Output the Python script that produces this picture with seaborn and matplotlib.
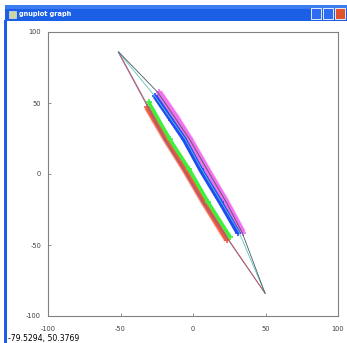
import matplotlib
matplotlib.use("Agg")
import matplotlib.pyplot as plt
import seaborn as sns
import pandas as pd
from matplotlib.patches import Rectangle

sns.set_theme(style="white")
plt.rcParams['font.family'] = ['DejaVu Sans']

# --- data -----------------------------------------------------------------
# point bands (centre lines)
red_x = [-31.7, -18.8, -5.8, 7.5, 23.4]
red_y = [47.0, 24.4, 3.2, -20.0, -46.3]
green_x = [-30.5, -16.0, -2.6, 10.5, 25.5]
green_y = [50.5, 24.4, 3.2, -20.0, -44.2]
blue_x = [-26.2, -15.0, -6.0, 5.3, 19.0, 31.0]
blue_y = [54.8, 38.0, 24.4, 3.2, -20.0, -41.3]
magenta_x = [-23.6, -11.8, -2.2, 9.7, 23.0, 34.2]
magenta_y = [57.6, 40.0, 24.4, 3.2, -20.0, -41.3]

# fitted curves, from common start to common end point
c_purple_x = [-51.7, -31.9, -19.5, -6.4, 7.1, 23.3, 49.7]
c_purple_y = [86.0, 48.5, 24.4, 3.2, -20.0, -45.0, -84.0]
c_red_x = [-51.3, -31.4, -19.0, -6.0, 7.6, 23.8, 49.7]
c_red_y = [86.0, 48.5, 24.4, 3.2, -20.0, -45.0, -84.0]
c_teal_x = [-51.5, -26.5, -5.3, 6.0, 19.6, 31.5, 49.7]
c_teal_y = [86.0, 55.0, 24.4, 3.2, -20.0, -40.5, -84.0]
c_gray_x = [-51.3, -24.3, -2.3, 9.7, 23.0, 33.8, 49.7]
c_gray_y = [86.0, 57.5, 24.4, 3.2, -20.0, -41.0, -84.0]

x_ticks = [-100, -50, 0, 50, 100]
y_ticks = [-100, -50, 0, 50, 100]
window_title = "gnuplot graph"
status_text = "-79.5294, 50.3769"

# --- figure -----------------------------------------------------------------
W, H = 347, 343
fig = plt.figure(figsize=(W / 100, H / 100), dpi=100)
fig.patch.set_facecolor("white")

# window chrome
fig.patches.append(Rectangle((5 / W, 1 - 21 / H), 1, 16 / H, transform=fig.transFigure,
                             facecolor="#1a5fe6", edgecolor="none", zorder=0))
fig.patches.append(Rectangle((5 / W, 1 - 9 / H), 1, 4 / H, transform=fig.transFigure,
                             facecolor="#3b7cf2", edgecolor="none", zorder=0))
fig.patches.append(Rectangle((4 / W, 0), 3 / W, 1 - 20 / H, transform=fig.transFigure,
                             facecolor="#1a5fe6", edgecolor="none", zorder=0))
fig.patches.append(Rectangle((9 / W, 1 - 18 / H), 7 / W, 7 / H, transform=fig.transFigure,
                             facecolor="#c8d8a0", edgecolor="#e0e0e0", lw=0.5, zorder=1))
fig.text(19 / W, 1 - 14 / H, window_title, color="white", fontsize=4.8,
         fontweight="bold", va="center", ha="left")
for bx, col in [(316, "#2d6cf0"), (328, "#2d6cf0"), (340, "#e2532b")]:
    fig.patches.append(Rectangle(((bx - 5) / W, 1 - 19 / H), 10 / W, 11 / H,
                                 transform=fig.transFigure, facecolor=col,
                                 edgecolor="white", lw=0.6, zorder=1))
fig.text(7.5 / W, 1 - 338 / H, status_text, color="black", fontsize=5.6,
         va="center", ha="left")

ax = fig.add_axes([48 / W, 1 - 316 / H, 290 / W, 284 / H])
ax.set_facecolor("white")


def band(xs, ys, color, lw, halo=None, halo_lw=None):
    df = pd.DataFrame({"x": xs, "y": ys})
    if halo is not None:
        sns.lineplot(data=df, x="x", y="y", color=halo, lw=halo_lw, sort=False,
                     ax=ax, solid_capstyle="butt", alpha=0.8)
    sns.lineplot(data=df, x="x", y="y", color=color, lw=lw, sort=False, ax=ax,
                 solid_capstyle="butt", marker="+", markersize=5,
                 markeredgewidth=1.2, markeredgecolor=color)


band(red_x, red_y, "#f25a3c", 3.4, halo="#f7a090", halo_lw=4.8)
band(green_x, green_y, "#3cf03c", 2.6)
band(magenta_x, magenta_y, "#f070f0", 4.2, halo="#f8a8f8", halo_lw=5.2)
band(blue_x, blue_y, "#1f4cf5", 3.6)

for xs, ys, col in [(c_purple_x, c_purple_y, "#6a5fc8"),
                    (c_red_x, c_red_y, "#c85a4a"),
                    (c_teal_x, c_teal_y, "#5cc4c0"),
                    (c_gray_x, c_gray_y, "#4a5a5a")]:
    sns.lineplot(x=xs, y=ys, color=col, lw=0.6, sort=False, ax=ax)

ax.set_xlim(-100, 100)
ax.set_ylim(-100, 100)
ax.set_xticks(x_ticks)
ax.set_yticks(y_ticks)
ax.set_xticklabels([str(t) for t in x_ticks])
ax.set_yticklabels([str(t) for t in y_ticks])
ax.set_xlabel("")
ax.set_ylabel("")
for s in ax.spines.values():
    s.set_color("#808080")
    s.set_linewidth(0.8)
ax.tick_params(axis="both", direction="in", length=2.5, width=0.6, color="#808080",
               labelsize=4.8, labelcolor="#404040", pad=5,
               top=False, right=False, bottom=True, left=True)
ax.tick_params(axis="x", pad=7)
ax.grid(False)

fig.savefig("out.png", dpi=100, facecolor="white")
